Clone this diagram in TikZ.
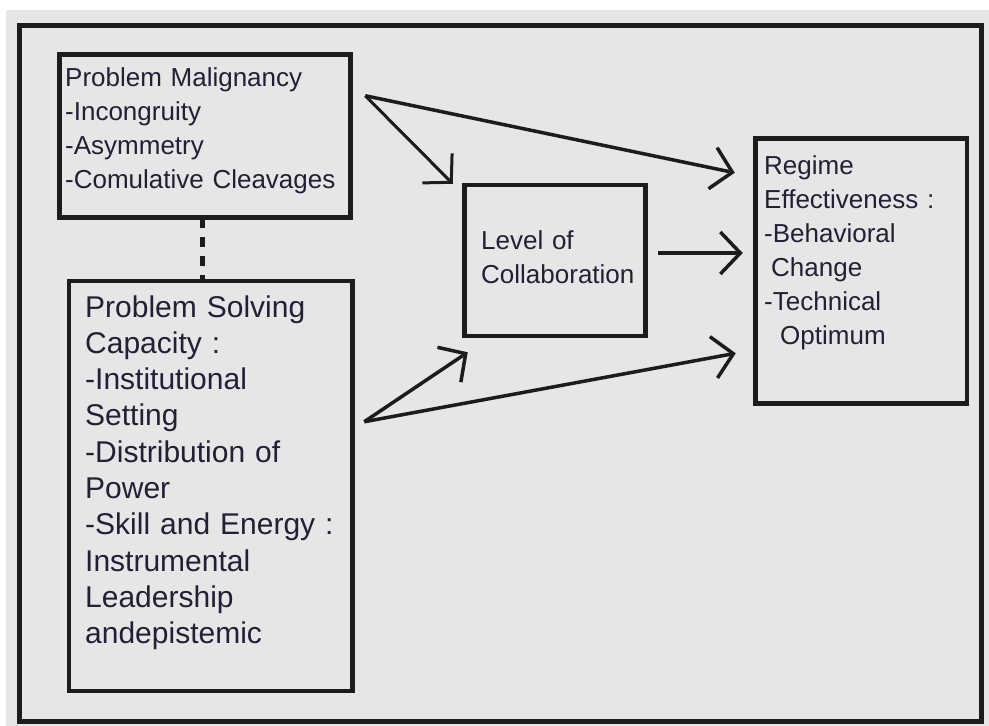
\documentclass[tikz,border=0pt]{standalone}
\usepackage{fontspec}
\setmainfont{Liberation Sans}
\usetikzlibrary{arrows.meta}
\definecolor{bgc}{HTML}{E6E6E6}
\definecolor{linec}{HTML}{1C1C1C}
\definecolor{inkc}{HTML}{241F35}

\begin{document}
\begin{tikzpicture}[x=1pt,y=-1pt,
                        box/.style={draw=linec, line width=4.5pt, inner sep=0pt},
                        txt/.style={anchor=base west, inner sep=0pt, text width=#1, align=left, text=inkc},
                        small/.style={font=\fontsize{26pt}{34pt}\selectfont},
                        conn/.style={draw=linec, line width=3.5pt, -{Straight Barb[length=20pt,width=42pt]}}]
                        \useasboundingbox (0,0) rectangle (989,726);
                        \fill[white] (0,0) rectangle (989,726);
                        \fill[bgc] (6,10) rectangle (989,726);
                        \draw[linec, line width=5pt] (19,25) rectangle (981,721);

                        \node[box, minimum width=291pt, minimum height=163pt] (malign) at (205,136) {};
                        \node[box, minimum width=283.5pt, minimum height=410pt] (capac) at (210.75,486) {};
                        \node[box, minimum width=181pt, minimum height=151pt] (collab) at (555,260.5) {};
                        \node[box, minimum width=211.5pt, minimum height=265pt] (regime) at (861.25,271) {};

                        \node[txt=280pt, small] (malignt) at (65,86) {Problem Malignancy\\-Incongruity\\-Asymmetry\\-Comulative Cleavages};
                        \node[txt=270pt, font=\fontsize{30pt}{36.3pt}\selectfont] (capact) at (85,317) {Problem Solving\\Capacity :\\-Institutional\\Setting\\-Distribution of\\Power\\-Skill and Energy :\\Instrumental\\Leadership\\andepistemic};
                        \node[txt=170pt, small] (collabt) at (481,249) {Level of\\Collaboration};
                        \node[txt=200pt, small] (regimet) at (764,174) {Regime\\Effectiveness :\\-Behavioral\\\hspace*{7pt}Change\\-Technical\\\hspace*{16pt}Optimum};

                        \draw[linec, line width=5pt, dash pattern=on 10pt off 9pt, dash phase=1.5pt] ([xshift=-2.5pt]malign.south) -- ([xshift=-2.5pt]malign.south |- capac.north);

                        \coordinate (pmout) at ([shift={(12.5,43.5)}]malign.north east);
                        \coordinate (psout) at ([shift={(9.5,143)}]capac.north east);
                        \draw[conn] (pmout) -- ([shift={(-18.5,36.5)}]regime.north west);
                        \draw[conn, line width=3pt] (pmout) -- ([shift={(-9.5,1)}]collab.north west);
                        \draw[conn] ([shift={(10.5,-7.5)}]collab.east) -- ([shift={(-10.5,-18)}]regime.west);
                        \draw[conn] (psout) -- ([shift={(5.5,14)}]collab.south west);
                        \draw[conn] (psout) -- ([shift={(-17.5,-52.5)}]regime.south west);
                    \end{tikzpicture}
\end{document}
